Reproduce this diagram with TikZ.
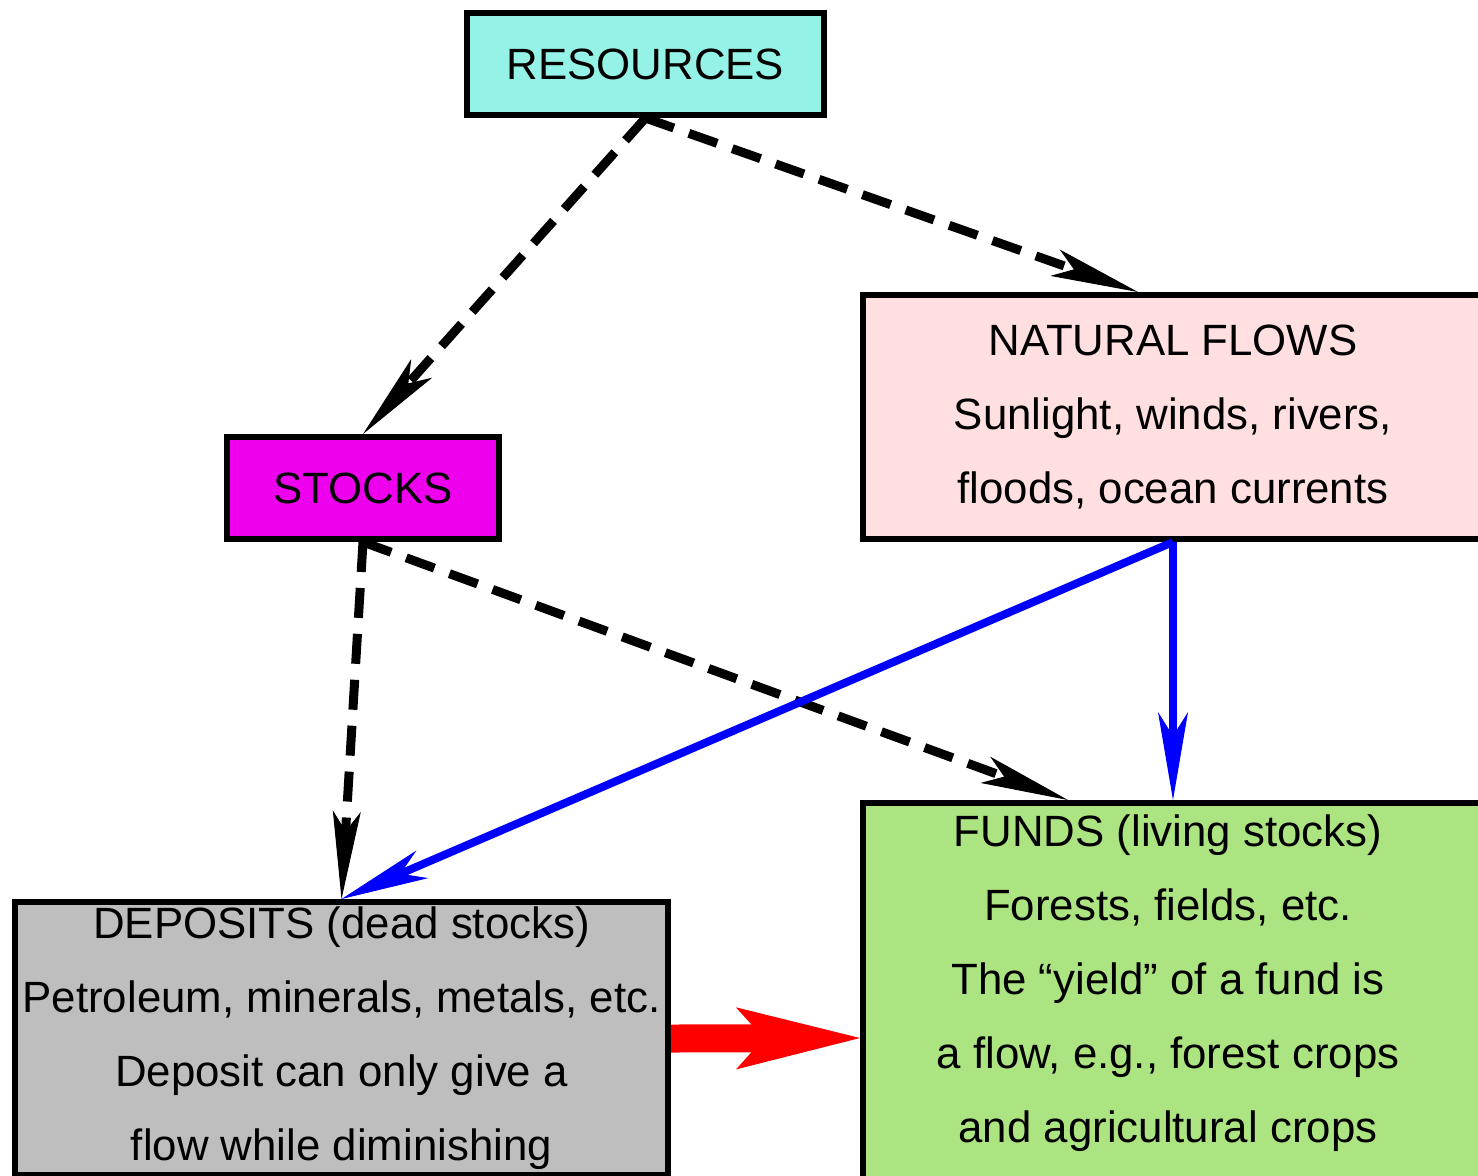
\documentclass[tikz,border=0pt]{standalone}
\usepackage{fontspec}
\setmainfont{Liberation Sans}
\usetikzlibrary{arrows.meta}
\definecolor{rescol}{HTML}{95F2E6}
\definecolor{stockcol}{HTML}{EE00EE}
\definecolor{natcol}{HTML}{FFDFDF}
\definecolor{fundcol}{HTML}{ADE482}
\definecolor{depcol}{HTML}{BEBEBE}
\begin{document}
\begin{tikzpicture}[x=0.5pt,y=-0.5pt,
  box/.style={draw=black, line width=3pt, inner sep=0pt, align=center,
    font=\fontsize{21.9pt}{37pt}\selectfont},
  txt/.style={inner sep=0pt, align=center, font=\fontsize{21.9pt}{37pt}\selectfont},
  dasharrow/.style={line width=4.5pt, dash pattern=on 15pt off 8pt,
    -{Stealth[length=44pt,width=14pt,inset=10pt,line width=0.5pt]}},
  bluearrow/.style={blue, line width=4pt,
    -{Stealth[length=44pt,width=15pt,inset=12pt,line width=0.5pt]}},
  redarrow/.style={red, line width=14pt,
    -{Stealth[length=62pt,width=31pt,inset=14pt,line width=0.5pt]}}]
\useasboundingbox (0,0) rectangle (1478,1175);
\fill[white] (0,0) rectangle (1478,1175);
% boxes
\node[box, fill=rescol, minimum width=178.5pt, minimum height=51pt] (res) at (645.5,64) {RESOURCES};
\node[box, fill=stockcol, minimum width=136pt, minimum height=51pt] (stocks) at (363,488) {STOCKS};
\node[box, fill=natcol, minimum width=310pt, minimum height=122pt] (nat) at (1173,417)
  {NATURAL FLOWS\\Sunlight, winds, rivers,\\floods, ocean currents};
\node[box, fill=fundcol, minimum width=310pt, minimum height=235pt] (funds) at (1173,1038) {};
\node[txt] (fundstext) at (1168,983)
  {FUNDS (living stocks)\\Forests, fields, etc.\\The “yield” of a fund is\\a flow, e.g., forest crops\\and agricultural crops};
\node[box, fill=depcol, minimum width=326.5pt, minimum height=136.5pt] (dep) at (341.5,1038.5)
  {DEPOSITS (dead stocks)\\Petroleum, minerals, metals, etc.\\Deposit can only give a\\flow while diminishing};
% dashed connectors
\draw[dasharrow] (res.south) -- (stocks.north);
\draw[dasharrow] (res.south) -- ([xshift=139pt]nat.north west);
\draw[dasharrow] (stocks.south) -- (dep.north);
\draw[dasharrow] (stocks.south) -- ([xshift=104pt]funds.north west);
% blue connectors
\draw[bluearrow] (nat.south) -- (dep.north);
\draw[bluearrow] (nat.south) -- (funds.north);
% red connector
\draw[redarrow] (dep.east) -- (funds.west);
\end{tikzpicture}
\end{document}
